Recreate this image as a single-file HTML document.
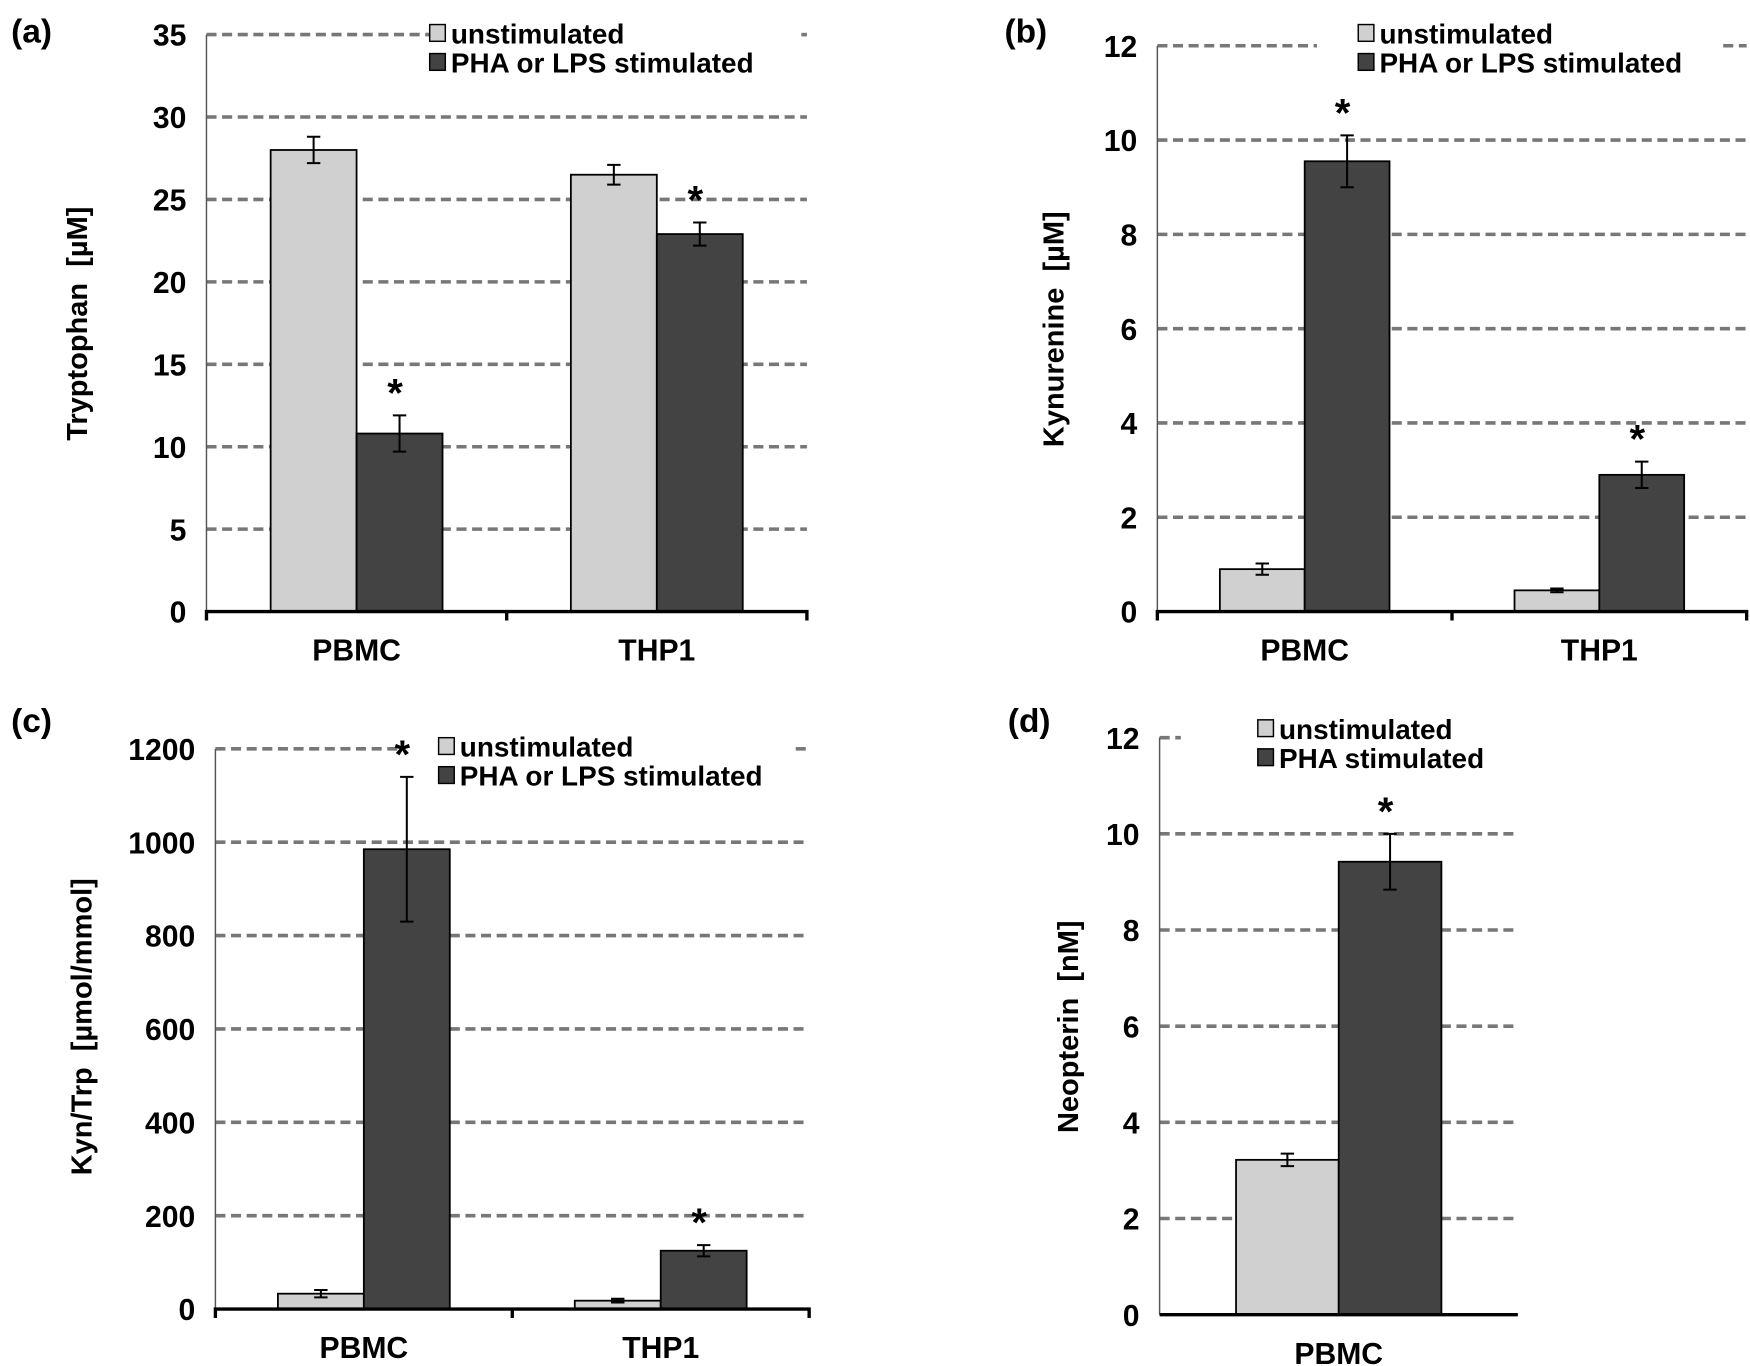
<!DOCTYPE html>
<html><head><meta charset="utf-8"><style>
html,body{margin:0;padding:0;background:#fff;}
svg{display:block;font-family:"Liberation Sans",Arial,sans-serif;font-weight:bold;}
text{white-space:pre;}
</style></head><body>
<svg id="fig" width="1750" height="1366" viewBox="0 0 1568 1224" preserveAspectRatio="none" xmlns="http://www.w3.org/2000/svg"></svg>
<script>
// Panel (a) Tryptophan
const aCategories = ["PBMC", "THP1"];
const aUnstim = [28.0, 26.5];
const aUnstimErr = [0.8, 0.6];
const aStim = [10.8, 22.9];
const aStimErr = [1.1, 0.7];
const aTicks = [0, 5, 10, 15, 20, 25, 30, 35];
// Panel (b) Kynurenine
const bCategories = ["PBMC", "THP1"];
const bUnstim = [0.9, 0.45];
const bUnstimErr = [0.12, 0.04];
const bStim = [9.55, 2.9];
const bStimErr = [0.55, 0.28];
const bTicks = [0, 2, 4, 6, 8, 10, 12];
// Panel (c) Kyn/Trp
const cCategories = ["PBMC", "THP1"];
const cUnstim = [33, 18];
const cUnstimErr = [8, 4];
const cStim = [985, 125];
const cStimErr = [155, 12];
const cTicks = [0, 200, 400, 600, 800, 1000, 1200];
// Panel (d) Neopterin
const dCategories = ["PBMC"];
const dUnstim = [3.22];
const dUnstimErr = [0.13];
const dStim = [9.42];
const dStimErr = [0.58];
const dTicks = [0, 2, 4, 6, 8, 10, 12];

const NS = "http://www.w3.org/2000/svg";
const svg = document.getElementById("fig");
function mk(tag, attrs, parent, text) {
  const e = document.createElementNS(NS, tag);
  for (const k in attrs) e.setAttribute(k, attrs[k]);
  if (text !== undefined) e.textContent = text;
  (parent || svg).appendChild(e);
  return e;
}

function panel(p) {
  const g = mk("g", {});
  
  
  const max = p.ticks[p.ticks.length - 1];
  const y = v => p.y0 - (v / max) * (p.y0 - p.yTop);
  const n = p.cats.length;
  const groupW = (p.x1 - p.x0) / n;
  p.ticks.forEach(t => {
    if (t === 0) return;
    const segs = (t === max) ? p.topSegs : [[p.x0, p.x1]];
    segs.forEach(s => {
      const l = mk("line", {x1: s[0], x2: s[1], y1: y(t), y2: y(t), stroke: "#777", "stroke-width": 3.2, "stroke-dasharray": "9,5"}, g);
      
      
    });
    const tl = mk("text", {x: p.x0 - 18, y: y(t) + 10, "text-anchor": "end", "font-size": 27}, g, t);
    
    
  });
  const t0 = mk("text", {x: p.x0 - 18, y: p.y0 + 10, "text-anchor": "end", "font-size": 27}, g, 0);
  
  
  for (let i = 0; i < n; i++) {
    const cx = p.x0 + groupW * (i + 0.5);
    const bw = p.barW;
    const series = [[p.u, p.ue, "#d0d0d0", cx - bw, "bar-unstimulated-"], [p.s, p.se, "#434343", cx, "bar-stimulated-"]];
    series.forEach(sr => {
      const v = sr[0][i], e = sr[1][i];
      const r = mk("rect", {x: sr[3], y: y(v), width: bw, height: p.y0 - y(v), fill: sr[2], stroke: "#000", "stroke-width": 1.6}, g);
      
      
      const ex = sr[3] + bw / 2;
      const eb = mk("path", {d: `M${ex},${y(v + e)}V${y(v - e)}M${ex - 6},${y(v + e)}H${ex + 6}M${ex - 6},${y(v - e)}H${ex + 6}`, stroke: "#000", "stroke-width": 1.8, fill: "none"}, g);
      
      
    });
    const ax = cx + bw / 2 - 4;
    const st = mk("text", {x: ax, y: y(p.s[i] + p.se[i]) - 8, "text-anchor": "middle", "font-size": 36}, g, "*");
    
    
    const cl = mk("text", {x: cx, y: p.y0 + 44, "text-anchor": "middle", "font-size": 27}, g, p.cats[i]);
    
    
    if (i > 0) {
      const tk = mk("line", {x1: p.x0 + groupW * i, x2: p.x0 + groupW * i, y1: p.y0, y2: p.y0 + 8, stroke: "#000", "stroke-width": 3}, g);
      
      
    }
  }
  const ya = mk("line", {x1: p.x0, x2: p.x0, y1: p.yTop, y2: p.y0, stroke: "#555", "stroke-width": 1.3}, g);
  
  
  const xa = mk("path", {d: p.ends ? `M${p.x0},${p.y0 + 8}V${p.y0}H${p.x1}V${p.y0 + 8}` : `M${p.x0},${p.y0}H${p.x1}`, stroke: "#000", "stroke-width": 3, fill: "none"}, g);
  
  
  const yt = mk("text", {x: 0, y: 0, "text-anchor": "middle", "font-size": 26, transform: `translate(${p.titleX},${p.titleY}) rotate(-90)`}, g, p.title);
  
  
  const pl = mk("text", {x: p.labX, y: p.labY, "font-size": 30}, g, "(" + p.id + ")");
  
  
  const lg = mk("g", {}, g);
  
  
  [[p.legU, "#d0d0d0", 0], [p.legS, "#434343", 26]].forEach(L => {
    const b = mk("rect", {x: p.legX, y: p.legY + L[2], width: 14, height: 15, fill: L[1], stroke: "#000", "stroke-width": 1.3}, lg);
    
    
    const tx = mk("text", {x: p.legX + 19, y: p.legY + L[2] + 17, "font-size": 25}, lg, L[0]);
    
    
  });
}

panel({id: "a", cats: aCategories, u: aUnstim, ue: aUnstimErr, s: aStim, se: aStimErr, ticks: aTicks,
  x0: 185, x1: 723, y0: 548, yTop: 31, barW: 77, ends: true, topSegs: [[185, 390], [718, 723]],
  title: "Tryptophan  [µM]", titleX: 78, titleY: 290, labX: 10, labY: 38,
  legX: 385, legY: 22, legU: "unstimulated", legS: "PHA or LPS stimulated"});
panel({id: "b", cats: bCategories, u: bUnstim, ue: bUnstimErr, s: bStim, se: bStimErr, ticks: bTicks,
  x0: 1037, x1: 1565, y0: 548, yTop: 41, barW: 76, ends: true, topSegs: [[1037, 1180], [1544, 1565]],
  title: "Kynurenine  [µM]", titleX: 953, titleY: 295, labX: 900, labY: 38,
  legX: 1217, legY: 22, legU: "unstimulated", legS: "PHA or LPS stimulated"});
panel({id: "c", cats: cCategories, u: cUnstim, ue: cUnstimErr, s: cStim, se: cStimErr, ticks: cTicks,
  x0: 193, x1: 725, y0: 1173, yTop: 671, barW: 77, ends: true, topSegs: [[193, 360], [713, 722]],
  title: "Kyn/Trp  [µmol/mmol]", titleX: 82, titleY: 920, labX: 10, labY: 656,
  legX: 393, legY: 661, legU: "unstimulated", legS: "PHA or LPS stimulated"});
panel({id: "d", cats: dCategories, u: dUnstim, ue: dUnstimErr, s: dStim, se: dStimErr, ticks: dTicks,
  x0: 1039, x1: 1360, y0: 1178, yTop: 661, barW: 92, ends: false, topSegs: [[1039, 1058]],
  title: "Neopterin  [nM]", titleX: 966, titleY: 920, labX: 903, labY: 656,
  legX: 1127, legY: 645, legU: "unstimulated", legS: "PHA stimulated"});
</script>
</body></html>
